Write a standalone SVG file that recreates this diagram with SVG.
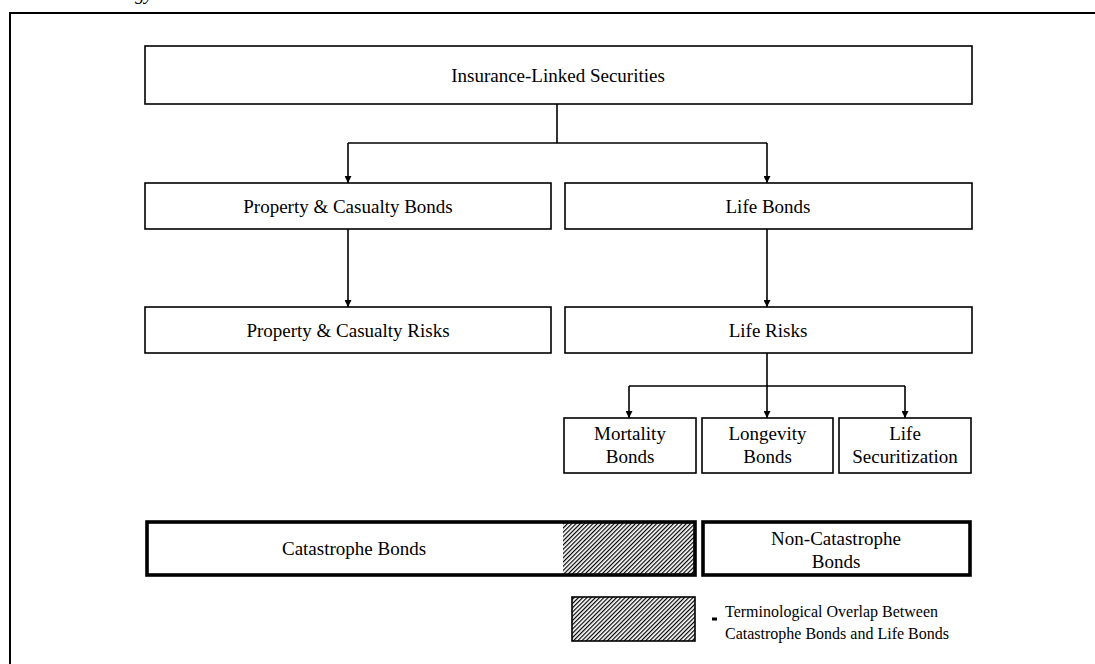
<svg xmlns="http://www.w3.org/2000/svg" width="1095" height="664" viewBox="0 0 1095 664">
  <style>
    .box { fill: #fff; stroke: #000; stroke-width: 1.6; }
    .heavy { fill: none; stroke: #000; stroke-width: 3.6; }
    .lbl { font-family: "Liberation Serif", "Times New Roman", serif; font-size: 19px; fill: #000; text-anchor: middle; }
    .note { font-family: "Liberation Serif", "Times New Roman", serif; font-size: 16px; fill: #000; }
    .wire { fill: none; stroke: #000; stroke-width: 1.6; }
  </style>
  <defs>
    <marker id="arrow" viewBox="0 0 10 10" refX="10" refY="5" markerWidth="7" markerHeight="7" markerUnits="userSpaceOnUse" orient="auto">
      <path d="M0,0 L10,5 L0,10 z" fill="#000"/>
    </marker>
    <pattern id="hatch" patternUnits="userSpaceOnUse" width="3" height="3" patternTransform="rotate(45)">
      <rect width="3" height="3" fill="#fff"/>
      <line x1="0.6" y1="0" x2="0.6" y2="3" stroke="#000" stroke-width="1.2"/>
    </pattern>
  </defs>

  <rect width="1095" height="664" fill="#fff"/>

  <!-- caption line running off the top edge -->
  <text x="135" y="0" font-family="Liberation Serif, serif" font-style="italic" font-size="19">gy</text>

  <!-- outer frame, clipped by the page on the right and bottom -->
  <path d="M10,664 V13 H1095" fill="none" stroke="#000" stroke-width="2"/>

  <g id="connectors">
    <path class="wire" d="M557,104 V143"/>
    <path class="wire" d="M348,143 H767"/>
    <path class="wire" d="M348,143 V183" marker-end="url(#arrow)"/>
    <path class="wire" d="M767,143 V183" marker-end="url(#arrow)"/>
    <path class="wire" d="M348,229 V307" marker-end="url(#arrow)"/>
    <path class="wire" d="M767,229 V307" marker-end="url(#arrow)"/>
    <path class="wire" d="M767,353 V386" stroke-width="2.4"/>
    <path class="wire" d="M629,386 H905"/>
    <path class="wire" d="M629,386 V418" marker-end="url(#arrow)"/>
    <path class="wire" d="M767,386 V418" marker-end="url(#arrow)" stroke-width="2.2"/>
    <path class="wire" d="M905,386 V418" marker-end="url(#arrow)"/>
  </g>

  <g id="ils">
    <rect class="box" x="145" y="46" width="827" height="58"/>
    <text class="lbl" x="558" y="82">Insurance-Linked Securities</text>
  </g>

  <g id="pc-bonds">
    <rect class="box" x="145" y="183" width="406" height="46"/>
    <text class="lbl" x="348" y="213">Property &amp; Casualty Bonds</text>
  </g>

  <g id="life-bonds">
    <rect class="box" x="565" y="183" width="407" height="46"/>
    <text class="lbl" x="768" y="213">Life Bonds</text>
  </g>

  <g id="pc-risks">
    <rect class="box" x="145" y="307" width="406" height="46"/>
    <text class="lbl" x="348" y="337">Property &amp; Casualty Risks</text>
  </g>

  <g id="life-risks">
    <rect class="box" x="565" y="307" width="407" height="46"/>
    <text class="lbl" x="768" y="337">Life Risks</text>
  </g>

  <g id="mortality">
    <rect class="box" x="564" y="418" width="132" height="55"/>
    <text class="lbl" x="630" y="440">Mortality</text>
    <text class="lbl" x="630" y="463">Bonds</text>
  </g>

  <g id="longevity">
    <rect class="box" x="702" y="418" width="131" height="55"/>
    <text class="lbl" x="767.5" y="440">Longevity</text>
    <text class="lbl" x="767.5" y="463">Bonds</text>
  </g>

  <g id="life-securitization">
    <rect class="box" x="839" y="418" width="132" height="55"/>
    <text class="lbl" x="905" y="440">Life</text>
    <text class="lbl" x="905" y="463">Securitization</text>
  </g>

  <g id="cat-bonds">
    <rect x="563" y="522" width="132" height="53" fill="url(#hatch)"/>
    <rect class="heavy" x="147" y="522" width="548" height="53"/>
    <text class="lbl" x="354" y="555">Catastrophe Bonds</text>
  </g>

  <g id="non-cat-bonds">
    <rect class="heavy" x="703" y="522" width="267" height="53"/>
    <text class="lbl" x="836" y="545">Non-Catastrophe</text>
    <text class="lbl" x="836" y="568">Bonds</text>
  </g>

  <g id="legend">
    <rect x="572" y="597" width="123" height="44" fill="url(#hatch)" stroke="#000" stroke-width="1.6"/>
    <rect x="712" y="617.5" width="5" height="3" fill="#000"/>
    <text class="note" x="725" y="617">Terminological Overlap Between</text>
    <text class="note" x="725" y="639">Catastrophe Bonds and Life Bonds</text>
  </g>
</svg>
